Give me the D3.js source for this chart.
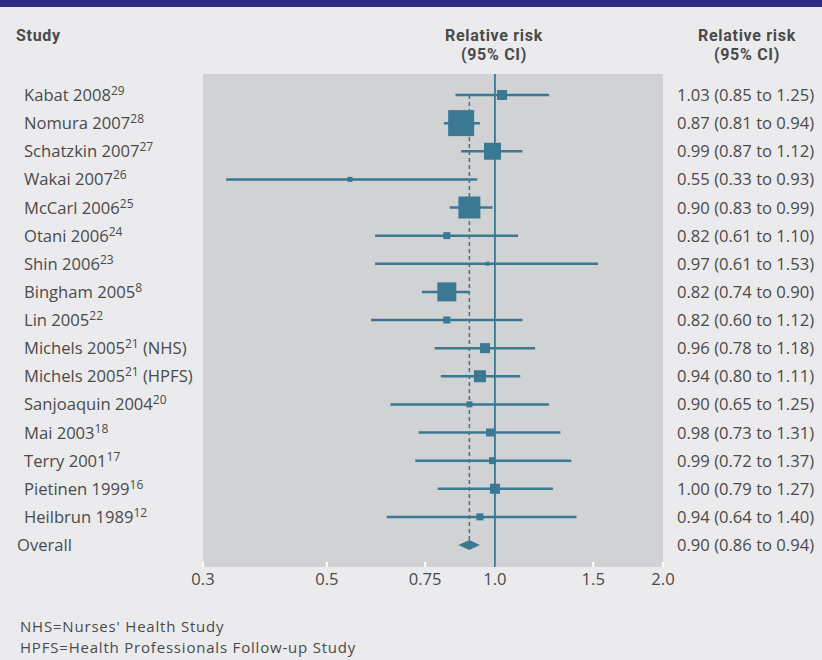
<!DOCTYPE html>
<html>
<head>
<meta charset="utf-8">
<script src="https://cdn.jsdelivr.net/npm/d3@7"></script>
<style>
  body { margin: 0; background: #ebebed; }
  svg { display: block; font-family: "Open Sans", "Noto Sans", sans-serif; }
</style>
</head>
<body>
<div id="chart"></div>
<script>
// --- DATOS ---
const studies = ["Kabat 2008", "Nomura 2007", "Schatzkin 2007", "Wakai 2007", "McCarl 2006",
  "Otani 2006", "Shin 2006", "Bingham 2005", "Lin 2005", "Michels 2005", "Michels 2005",
  "Sanjoaquin 2004", "Mai 2003", "Terry 2001", "Pietinen 1999", "Heilbrun 1989"];
const refs = ["29", "28", "27", "26", "25", "24", "23", "8", "22", "21", "21", "20", "18", "17", "16", "12"];
const suffixes = ["", "", "", "", "", "", "", "", "", " (NHS)", " (HPFS)", "", "", "", "", ""];
const rr = [1.03, 0.87, 0.99, 0.55, 0.90, 0.82, 0.97, 0.82, 0.82, 0.96, 0.94, 0.90, 0.98, 0.99, 1.00, 0.94];
const lower = [0.85, 0.81, 0.87, 0.33, 0.83, 0.61, 0.61, 0.74, 0.60, 0.78, 0.80, 0.65, 0.73, 0.72, 0.79, 0.64];
const upper = [1.25, 0.94, 1.12, 0.93, 0.99, 1.10, 1.53, 0.90, 1.12, 1.18, 1.11, 1.25, 1.31, 1.37, 1.27, 1.40];
const boxSize = [10, 26, 17, 5, 22, 7, 4, 19, 7, 10, 12, 6, 8, 7, 10, 7];
const overall = { rr: 0.90, lower: 0.86, upper: 0.94 };
const tickValues = [0.3, 0.5, 0.75, 1.0, 1.5, 2.0];
const tickLabels = ["0.3", "0.5", "0.75", "1.0", "1.5", "2.0"];
const footnotes = ["NHS=Nurses' Health Study", "HPFS=Health Professionals Follow-up Study"];

// --- CONFIGURACIÓN ---
const W = 822, H = 660;
const panel = { left: 203, right: 663, top: 74, bottom: 567 };
const blue = "#3b7894";
const textColor = "#4a4a4a";
const fs = 16.6;
const fmt = d3.format(".2f");

const svg = d3.select("#chart").append("svg").attr("width", W).attr("height", H);

svg.append("rect").attr("width", W).attr("height", H).attr("fill", "#ebebed");
svg.append("rect").attr("width", W).attr("height", 7).attr("fill", "#2e2b85");

const x = d3.scaleLog().domain([0.3, 2.0]).range([panel.left, panel.right]);
const y = d3.scalePoint().domain(d3.range(studies.length + 1)).range([95, 545]);

// panel
svg.append("rect")
  .attr("x", panel.left).attr("y", panel.top)
  .attr("width", panel.right - panel.left).attr("height", panel.bottom - panel.top)
  .attr("fill", "#d1d2d4");

// ticks (blancos dentro del panel)
svg.selectAll(".tick-mark").data(tickValues).join("line")
  .attr("x1", d => x(d)).attr("x2", d => x(d))
  .attr("y1", panel.bottom - 5).attr("y2", panel.bottom)
  .attr("stroke", "#fff").attr("stroke-width", 2);

svg.selectAll(".tick-label").data(tickValues).join("text")
  .attr("x", d => x(d)).attr("y", 585)
  .attr("text-anchor", "middle").attr("font-size", fs).attr("fill", textColor)
  .text((d, i) => tickLabels[i]);

// línea de no efecto
svg.append("line")
  .attr("x1", x(1)).attr("x2", x(1)).attr("y1", panel.top).attr("y2", panel.bottom)
  .attr("stroke", blue).attr("stroke-width", 1.8);

// línea discontinua del global
svg.append("line")
  .attr("x1", x(overall.rr)).attr("x2", x(overall.rr))
  .attr("y1", y(0)).attr("y2", y(studies.length) - 5)
  .attr("stroke", blue).attr("stroke-width", 1.5).attr("stroke-dasharray", "4,3");

// intervalos
const idx = d3.range(studies.length);
svg.selectAll(".ci").data(idx).join("line")
  .attr("x1", i => x(lower[i])).attr("x2", i => x(upper[i]))
  .attr("y1", i => y(i)).attr("y2", i => y(i))
  .attr("stroke", blue).attr("stroke-width", 2.5);

svg.selectAll(".box").data(idx).join("rect")
  .attr("x", i => x(rr[i]) - boxSize[i] / 2).attr("y", i => y(i) - boxSize[i] / 2)
  .attr("width", i => boxSize[i]).attr("height", i => boxSize[i])
  .attr("fill", blue);

// diamante
const yo = y(studies.length);
svg.append("path")
  .attr("d", `M${x(overall.lower)},${yo} L${x(overall.rr)},${yo - 5} L${x(overall.upper)},${yo} L${x(overall.rr)},${yo + 5} Z`)
  .attr("fill", blue);

// cabeceras
const header = svg.append("g").attr("font-weight", "bold").attr("font-size", 16)
  .attr("letter-spacing", 0.7)
  .attr("fill", textColor).attr("font-family", "Roboto, sans-serif");
header.append("text").attr("x", 16).attr("y", 41).text("Study");
[[494, "Relative risk"], [747, "Relative risk"]].forEach(([cx, t]) => {
  header.append("text").attr("x", cx).attr("y", 41).attr("text-anchor", "middle").text(t);
  header.append("text").attr("x", cx).attr("y", 60).attr("text-anchor", "middle").text("(95% CI)");
});

// etiquetas de estudios
const labels = svg.selectAll(".study").data(idx).join("text")
  .attr("x", 24).attr("y", i => y(i) + 6)
  .attr("font-size", fs).attr("fill", textColor);
labels.append("tspan").text(i => studies[i]);
labels.append("tspan").attr("dy", -6).attr("font-size", 12).text(i => refs[i]);
labels.append("tspan").attr("dy", 6).text(i => suffixes[i]);

svg.append("text").attr("x", 17).attr("y", yo + 6)
  .attr("font-size", fs).attr("fill", textColor).text("Overall");

// valores a la derecha
svg.selectAll(".val").data(idx).join("text")
  .attr("x", 677).attr("y", i => y(i) + 6)
  .attr("font-size", fs).attr("fill", textColor)
  .text(i => `${fmt(rr[i])} (${fmt(lower[i])} to ${fmt(upper[i])})`);
svg.append("text").attr("x", 677).attr("y", yo + 6)
  .attr("font-size", fs).attr("fill", textColor)
  .text(`${fmt(overall.rr)} (${fmt(overall.lower)} to ${fmt(overall.upper)})`);

// notas
svg.selectAll(".note").data(footnotes).join("text")
  .attr("x", 20).attr("y", (d, i) => 632 + i * 20.5)
  .attr("font-size", 15).attr("letter-spacing", 0.8)
  .attr("fill", textColor).text(d => d);
</script>
</body>
</html>
